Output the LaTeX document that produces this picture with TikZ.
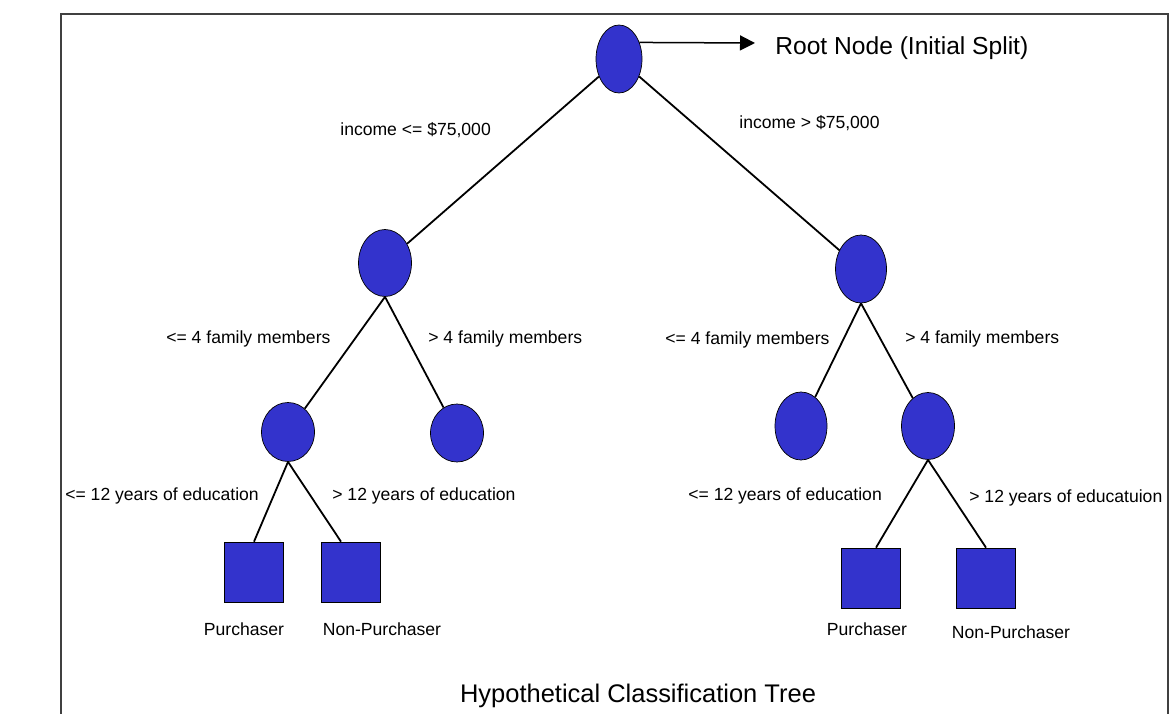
\documentclass[tikz,border=0pt]{standalone}
\usepackage{fontspec}
\setmainfont{Liberation Sans}
\usetikzlibrary{shapes.geometric,arrows.meta}
\definecolor{nodeblue}{RGB}{51,51,204}
\definecolor{framegray}{RGB}{64,64,64}
\tikzset{
  split/.style={ellipse,draw=black,fill=nodeblue,inner sep=0pt,minimum width=10.6mm,minimum height=13.4mm},
  leaf/.style={rectangle,draw=black,fill=nodeblue,inner sep=0pt,minimum width=11.8mm,minimum height=12mm},
  branch/.style={draw=black,line width=0.36mm},
  cond/.style={anchor=base west,inner sep=0pt,font=\fontsize{10}{12}\selectfont},
  outcome/.style={anchor=base,inner sep=0pt,font=\fontsize{10}{12}\selectfont}
}

\begin{document}
\begin{tikzpicture}[x=0.2mm,y=-0.2mm]
        \useasboundingbox (0,0) rectangle (1172,714);
        \draw[framegray,line width=0.4mm] (61,714) -- (61,14) -- (1168,14) -- (1168,714);

        \node[split,minimum width=9.2mm,minimum height=13.6mm] (root) at (619,59) {};
        \node[split] (inc1) at (385,263) {};
        \node[split,minimum width=10.2mm,minimum height=13.6mm] (inc2) at (861,269) {};
        \node[split,minimum height=11.8mm] (fam1) at (288,432) {};
        \node[split,minimum height=11.6mm] (fam2) at (457,433) {};
        \node[split,minimum width=10.4mm,minimum height=13.6mm] (fam3) at (801,426) {};
        \node[split,minimum height=13.4mm] (fam4) at (928,426) {};
        \node[leaf] (buy1) at (254,572) {};
        \node[leaf] (nobuy1) at (351,572) {};
        \node[leaf] (buy2) at (871,578) {};
        \node[leaf] (nobuy2) at (986,578) {};

        \draw[branch] (root) -- (inc1);
        \draw[branch] (root) -- (inc2);
        \draw[branch] (inc1.south) -- (fam1);
        \draw[branch] (inc1.south) -- (fam2);
        \draw[branch] (inc2.south) -- (fam3);
        \draw[branch] (inc2.south) -- (fam4);
        \draw[branch] (fam1.south) -- (buy1.north);
        \draw[branch] (fam1.south) -- ([xshift=-2mm]nobuy1.north);
        \draw[branch] (fam4.south) -- ([xshift=1mm]buy2.north);
        \draw[branch] (fam4.south) -- (nobuy2.north);

        \coordinate (rootpt) at (755,43);
        \draw[line width=0.3mm,-{Triangle[length=3mm,width=3mm]}] (root.39) -- (rootpt);
        \node[anchor=base west,inner sep=0pt,font=\fontsize{14}{17}\selectfont] (rootnote) at (775,55) {Root Node (Initial Split)};

        \node[cond] (c1) at (340,136) {income <= \$75,000};
        \node[cond] (c2) at (739,128) {income > \$75,000};
        \node[cond] (c3) at (166,343) {<= 4 family members};
        \node[cond] (c4) at (428,343) {> 4 family members};
        \node[cond] (c5) at (665,344) {<= 4 family members};
        \node[cond] (c6) at (905,343) {> 4 family members};
        \node[cond] (c7) at (65,500) {<= 12 years of education};
        \node[cond] (c8) at (332,500) {> 12 years of education};
        \node[cond] (c9) at (688,500) {<= 12 years of education};
        \node[cond] (c10) at (969,502) {> 12 years of educatuion};

        \node[outcome] (o1) at (244,635) {Purchaser};
        \node[outcome] (o2) at (382,635) {Non-Purchaser};
        \node[outcome] (o3) at (867,635) {Purchaser};
        \node[outcome] (o4) at (1011,638) {Non-Purchaser};

        \node[anchor=base,inner sep=0pt,font=\fontsize{14.5}{17}\selectfont] (title) at (638,702) {Hypothetical Classification Tree};
    \end{tikzpicture}
\end{document}
